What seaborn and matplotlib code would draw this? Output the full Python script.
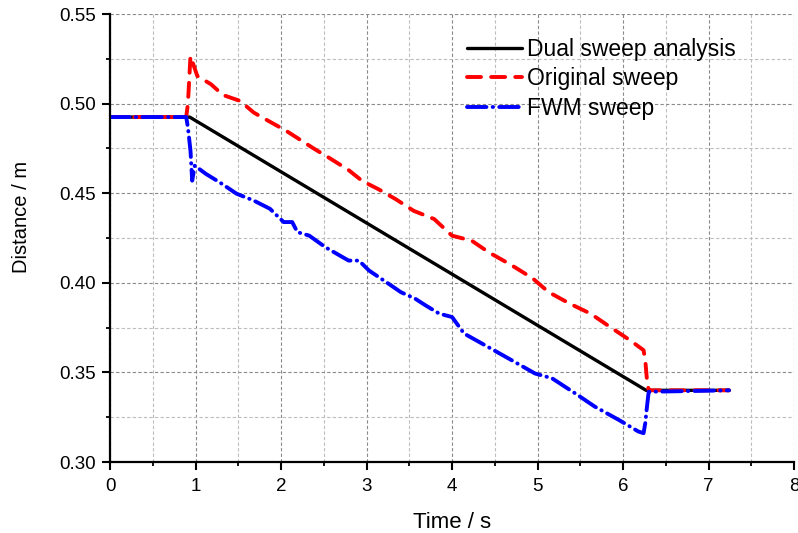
import matplotlib
matplotlib.use("Agg")
import matplotlib.pyplot as plt
import seaborn as sns
from matplotlib.ticker import MultipleLocator, FormatStrFormatter

# ---- data ----
dual_t = [0.0, 0.93, 6.27, 7.24]
dual_d = [0.4925, 0.4925, 0.340, 0.340]

orig_t = [0.0, 0.89, 0.91, 0.94, 1.02, 1.18, 1.32, 1.52, 1.68, 1.85, 2.06, 2.24,
          2.39, 2.56, 2.79, 2.95, 3.14, 3.34, 3.55, 3.79, 4.00, 4.23, 4.43, 4.69,
          4.94, 5.13, 5.38, 5.62, 5.85, 6.08, 6.24, 6.26, 6.28, 6.30, 7.24]
orig_d = [0.4925, 0.4925, 0.500, 0.5265, 0.5154, 0.5108, 0.5048, 0.5015, 0.495,
          0.4904, 0.4848, 0.4793, 0.4747, 0.4698, 0.4629, 0.4568, 0.4522, 0.4467,
          0.4402, 0.4356, 0.4263, 0.4235, 0.4170, 0.4100, 0.4026, 0.3948, 0.3883,
          0.3828, 0.3753, 0.3680, 0.3624, 0.3568, 0.3457, 0.3400, 0.3400]

fwm_t = [0.0, 0.89, 0.91, 0.94, 0.96, 0.99, 1.12, 1.28, 1.48, 1.68, 1.87, 2.03,
         2.13, 2.19, 2.33, 2.52, 2.79, 2.91, 3.03, 3.26, 3.40, 3.57, 3.69, 3.85,
         4.00, 4.14, 4.35, 4.66, 4.97, 5.17, 5.44, 5.67, 5.95, 6.18, 6.24, 6.26,
         6.28, 6.30, 7.24]
fwm_d = [0.4925, 0.4925, 0.4867, 0.4737, 0.4570, 0.4654, 0.4608, 0.4561, 0.4497,
         0.4459, 0.4413, 0.4339, 0.4339, 0.4283, 0.4263, 0.4198, 0.4124, 0.4124,
         0.4068, 0.3994, 0.3948, 0.3911, 0.3874, 0.3828, 0.3809, 0.3717, 0.3661,
         0.3578, 0.3494, 0.3467, 0.3383, 0.3309, 0.3235, 0.3170, 0.3161, 0.3217,
         0.3309, 0.3392, 0.3400]

labels = ["Dual sweep analysis", "Original sweep", "FWM sweep"]

sns.set_theme(style="white")
plt.rcParams["font.family"] = ["Liberation Sans", "DejaVu Sans"]
plt.rcParams["text.color"] = "black"
plt.rcParams["axes.labelcolor"] = "black"
plt.rcParams["xtick.color"] = "black"
plt.rcParams["ytick.color"] = "black"

fig = plt.figure(figsize=(7.98, 5.33), dpi=100)
ax = fig.add_axes([0.138, 0.1332, 0.857, 0.8405])

sns.lineplot(x=dual_t, y=dual_d, ax=ax, color="black", lw=2.4, label=labels[0],
             estimator=None, sort=False)
sns.lineplot(x=orig_t, y=orig_d, ax=ax, color="#ff0000", lw=2.8, label=labels[1],
             estimator=None, sort=False, linestyle=(0, (3.6, 2.6)),
             dash_capstyle="round")
sns.lineplot(x=fwm_t, y=fwm_d, ax=ax, color="#0000ff", lw=2.8, label=labels[2],
             estimator=None, sort=False, linestyle=(0, (5.0, 1.6, 0.1, 1.6)),
             dash_capstyle="round")

ax.set_xlim(0, 8)
ax.set_ylim(0.30, 0.55)
ax.xaxis.set_major_locator(MultipleLocator(1))
ax.xaxis.set_minor_locator(MultipleLocator(0.5))
ax.yaxis.set_major_locator(MultipleLocator(0.05))
ax.yaxis.set_minor_locator(MultipleLocator(0.025))
ax.yaxis.set_major_formatter(FormatStrFormatter("%.2f"))

ax.grid(True, which="major", color="#8a8a8a", linestyle=(0, (3, 2)), lw=0.8)
ax.grid(True, which="minor", color="#bdbdbd", linestyle=(0, (3, 2)), lw=0.8)
ax.set_axisbelow(True)

for s in ["top", "right"]:
    ax.spines[s].set_visible(False)
for s in ["left", "bottom"]:
    ax.spines[s].set_color("black")
    ax.spines[s].set_linewidth(1.6)

ax.tick_params(which="major", direction="out", length=5.5, width=1.5,
               labelsize=13.5, colors="black", left=True, bottom=True)
ax.tick_params(axis="y", which="major", pad=5)
ax.tick_params(axis="x", which="major", pad=6)
ax.tick_params(which="minor", direction="out", length=3, width=1.3,
               left=True, bottom=True)

ax.set_xlabel("Time / s", fontsize=16, labelpad=12)
ax.set_ylabel("Distance / m", fontsize=14.5)
ax.yaxis.set_label_coords(-0.115, 0.547)

leg = ax.legend(loc="upper left", bbox_to_anchor=(0.5855, 0.928),
                bbox_transform=fig.transFigure, frameon=False, fontsize=16.5,
                handlelength=2.4, handletextpad=0.2, labelspacing=0.265,
                borderpad=0, borderaxespad=0)

fig.savefig("out.png", dpi=100)
